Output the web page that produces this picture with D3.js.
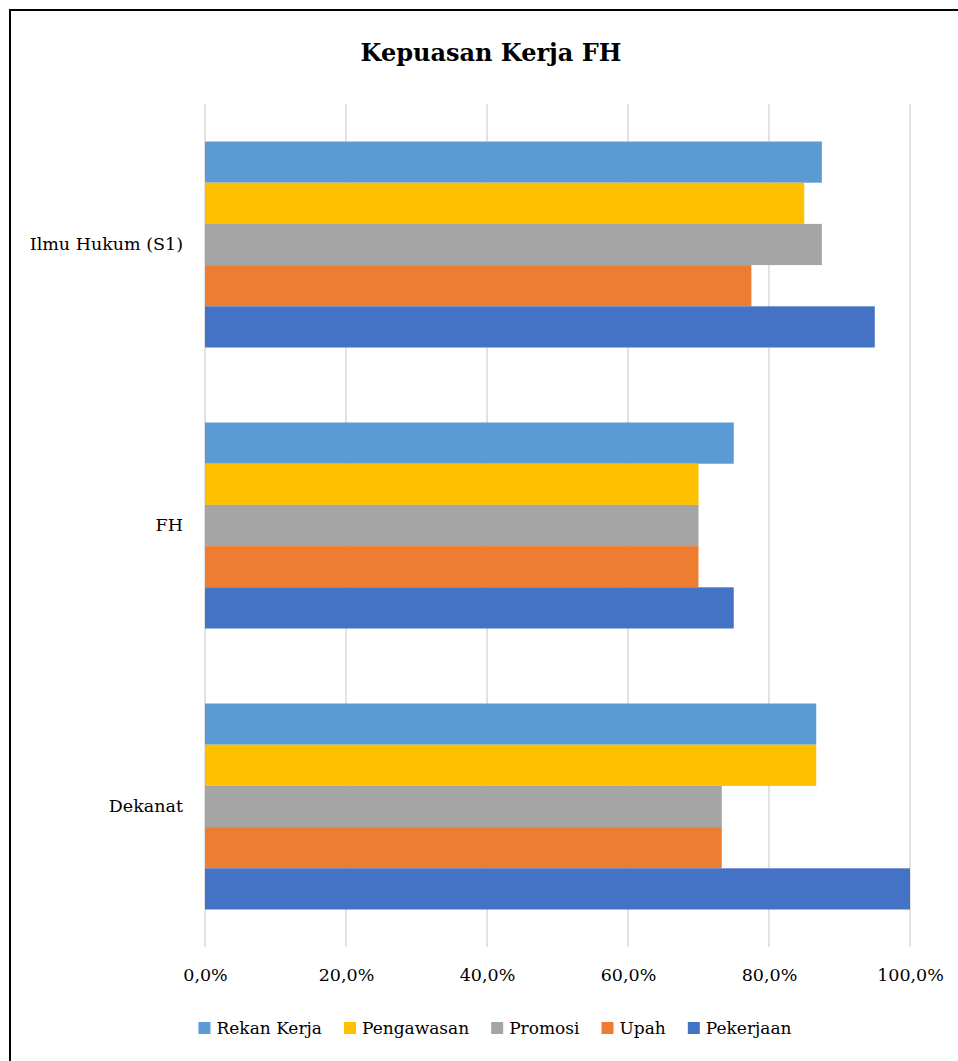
<!DOCTYPE html>
<html>
<head>
<meta charset="utf-8">
<script src="https://cdn.jsdelivr.net/npm/d3@7"></script>
<style>
  body { margin: 0; background: #fff; }
  svg { display: block; font-family: "DejaVu Serif", serif; }
</style>
</head>
<body>
<div id="chart"></div>
<script>
// Data
let categories = ["Ilmu Hukum (S1)", "FH", "Dekanat"];
let seriesNames = ["Rekan Kerja", "Pengawasan", "Promosi", "Upah", "Pekerjaan"];
let seriesColors = ["#5b9bd5", "#ffc000", "#a5a5a5", "#ed7d31", "#4472c4"];
let rekanKerja = [87.5, 75.0, 86.7];
let pengawasan = [85.0, 70.0, 86.7];
let promosi = [87.5, 70.0, 73.3];
let upah = [77.5, 70.0, 73.3];
let pekerjaan = [95.0, 75.0, 100.0];
let xTicks = [0, 20, 40, 60, 80, 100];

let seriesValues = [rekanKerja, pengawasan, promosi, upah, pekerjaan];

let width = 958;
let height = 1061;
let plot = { left: 205, right: 910, top: 104, bottom: 947 };
let fontFamily = "'DejaVu Serif', serif";

let svg = d3.select("#chart")
    .append("svg")
    .attr("width", width)
    .attr("height", height);

// Frame
svg.append("rect")
    .attr("x", 10)
    .attr("y", 10)
    .attr("width", 1000)
    .attr("height", 1100)
    .attr("fill", "#fff")
    .attr("stroke", "#000")
    .attr("stroke-width", 2);

// Title
svg.append("text")
    .attr("x", 491)
    .attr("y", 61)
    .attr("text-anchor", "middle")
    .attr("font-size", 24)
    .attr("font-weight", "bold")
    .attr("fill", "#000")
    .text("Kepuasan Kerja FH");

// Scales
let xScale = d3.scaleLinear()
    .domain([0, 100])
    .range([plot.left, plot.right]);

let yScale = d3.scaleBand()
    .domain(categories)
    .range([plot.top, plot.bottom])
    .paddingInner(75 / 281)
    .paddingOuter(37.5 / 281);

let inner = d3.scaleBand()
    .domain(seriesNames)
    .range([0, yScale.bandwidth()]);

// Gridlines
svg.append("g")
    .selectAll("line")
    .data(xTicks)
    .join("line")
    .attr("x1", d => xScale(d))
    .attr("x2", d => xScale(d))
    .attr("y1", plot.top)
    .attr("y2", plot.bottom)
    .attr("stroke", "#d9d9d9")
    .attr("stroke-width", 1.5);

// Bars
seriesNames.forEach((name, i) => {
    svg.append("g")
        .selectAll("rect")
        .data(categories)
        .join("rect")
        .attr("x", xScale(0))
        .attr("y", c => yScale(c) + inner(name))
        .attr("width", (c, j) => xScale(seriesValues[i][j]) - xScale(0))
        .attr("height", inner.bandwidth())
        .attr("fill", seriesColors[i]);
});

// X axis labels
let xAxis = d3.axisBottom(xScale)
    .tickValues(xTicks)
    .tickSize(0)
    .tickPadding(22)
    .tickFormat(d => d.toFixed(1).replace(".", ",") + "%");

svg.append("g")
    .attr("transform", "translate(0," + plot.bottom + ")")
    .call(xAxis)
    .call(g => g.attr("font-family", fontFamily))
    .call(g => g.select(".domain").remove())
    .call(g => g.selectAll("text")
        .attr("font-size", 17.5)
        .attr("fill", "#000"));

// Y axis labels
let yAxis = d3.axisLeft(yScale)
    .tickSize(0)
    .tickPadding(22);

svg.append("g")
    .attr("transform", "translate(" + plot.left + ",0)")
    .call(yAxis)
    .call(g => g.attr("font-family", fontFamily))
    .call(g => g.select(".domain").remove())
    .call(g => g.selectAll("text")
        .attr("font-size", 17.5)
        .attr("fill", "#000"));

// Legend
let legend = svg.append("g");
let items = legend.selectAll("g")
    .data(seriesNames)
    .join("g");

items.append("rect")
    .attr("width", 12)
    .attr("height", 12)
    .attr("y", -6)
    .attr("fill", (d, i) => seriesColors[i]);

items.append("text")
    .attr("x", 18)
    .attr("y", 6)
    .attr("font-size", 17)
    .attr("fill", "#000")
    .text(d => d);

let gap = 22;
let offset = 0;
items.each(function () {
    let w = 18 + d3.select(this).select("text").node().getComputedTextLength();
    d3.select(this).attr("transform", "translate(" + offset + ",0)");
    offset += w + gap;
});
let totalWidth = offset - gap;
legend.attr("transform", "translate(" + (495 - totalWidth / 2) + ",1028)");
</script>
</body>
</html>
